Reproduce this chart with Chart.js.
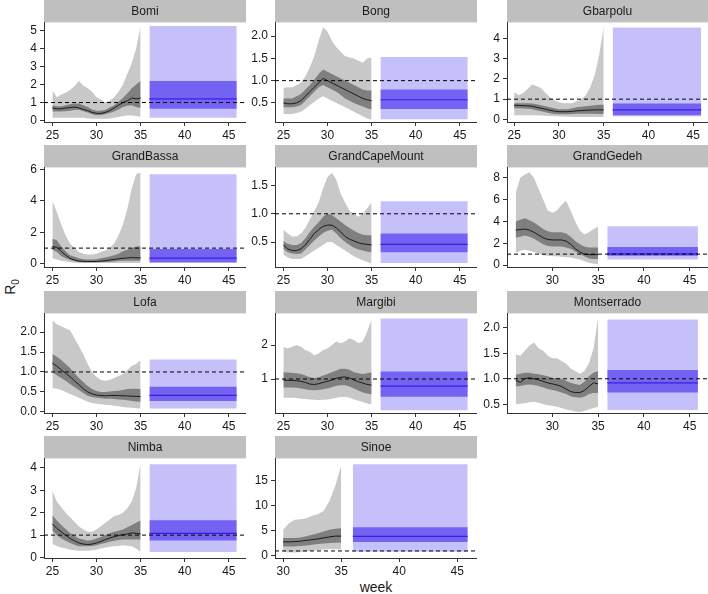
<!DOCTYPE html>
<html>
<head>
<meta charset="utf-8">
<script src="https://cdn.jsdelivr.net/npm/chart.js@4.4.1/dist/chart.umd.min.js"></script>
<style>
body { margin: 0; background: #fff; width: 708px; height: 594px; position: relative; overflow: hidden; font-family: "Liberation Sans", Arial, sans-serif; color: #1a1a1a; }
canvas { position: absolute; }
#ylab { position: absolute; left: -10px; top: 277px; width: 40px; height: 20px; line-height: 20px; text-align: center; font-size: 14px; transform: rotate(-90deg); }
#ylab sub { font-size: 10px; }
#xlab { position: absolute; left: 336px; top: 578px; width: 80px; line-height: 18px; text-align: center; font-size: 14px; }
</style>
</head>
<body>
<div id="ylab">R<sub>0</sub></div>
<div id="xlab">week</div>
<script>
// weeks of the estimated R0 curves
let weeksA = [25, 25.5, 26, 26.5, 27, 27.5, 28, 28.5, 29, 29.5, 30, 30.5, 31, 31.5, 32, 32.5, 33, 33.5, 34, 34.5, 35]
let weeksB = [26, 26.5, 27, 27.5, 28, 28.5, 29, 29.5, 30, 30.5, 31, 31.5, 32, 32.5, 33, 33.5, 34, 34.5, 35]
let weeksC = [30, 30.5, 31, 31.5, 32, 32.5, 33, 33.5, 34, 34.5, 35]
let projWeeks = [36, 45.9]

// projection blocks: [lo95, lo50, median, hi50, hi95]
let bomiHi95 = [1.68, 1.3, 1.45, 1.55, 1.7, 1.9, 2.2, 1.95, 1.8, 1.6, 1.3, 1.15, 1.0, 1.1, 1.3, 1.6, 2.0, 2.6, 3.2, 4.0, 5.25]
let bomiHi50 = [0.85, 0.8, 0.8, 0.85, 0.9, 0.95, 0.95, 0.85, 0.75, 0.62, 0.55, 0.55, 0.6, 0.72, 0.85, 1.05, 1.25, 1.5, 1.8, 2.0, 2.2]
let bomiMed = [0.7, 0.65, 0.65, 0.7, 0.72, 0.75, 0.7, 0.62, 0.55, 0.45, 0.4, 0.4, 0.45, 0.55, 0.7, 0.85, 1.0, 1.1, 1.25, 1.2, 1.25]
let bomiLo50 = [0.5, 0.5, 0.5, 0.52, 0.55, 0.58, 0.6, 0.52, 0.45, 0.35, 0.3, 0.3, 0.35, 0.42, 0.5, 0.62, 0.75, 0.82, 0.85, 0.75, 0.7]
let bomiLo95 = [0.15, 0.15, 0.15, 0.15, 0.15, 0.15, 0.15, 0.15, 0.12, 0.1, 0.1, 0.1, 0.1, 0.12, 0.15, 0.2, 0.25, 0.28, 0.28, 0.25, 0.2]
let bomiProj = [0.15, 0.65, 1.2, 2.2, 5.25]
let bomiYTicks = [0, 1, 2, 3, 4, 5]

let bongHi95 = [0.84, 0.85, 0.85, 0.9, 0.95, 1.1, 1.3, 1.55, 1.9, 2.2, 2.1, 1.9, 1.75, 1.65, 1.55, 1.52, 1.5, 1.45, 1.4, 1.5, 1.52]
let bongHi50 = [0.6, 0.6, 0.6, 0.65, 0.7, 0.8, 0.9, 1.02, 1.15, 1.25, 1.2, 1.15, 1.1, 1.05, 1.0, 0.95, 0.9, 0.85, 0.8, 0.78, 0.78]
let bongMed = [0.5, 0.48, 0.48, 0.5, 0.55, 0.65, 0.75, 0.85, 0.95, 1.05, 1.0, 0.95, 0.9, 0.85, 0.8, 0.75, 0.7, 0.65, 0.6, 0.57, 0.55]
let bongLo50 = [0.4, 0.4, 0.4, 0.42, 0.45, 0.55, 0.65, 0.75, 0.85, 0.9, 0.85, 0.8, 0.75, 0.68, 0.6, 0.55, 0.5, 0.46, 0.42, 0.38, 0.35]
let bongLo95 = [0.25, 0.25, 0.25, 0.27, 0.3, 0.37, 0.45, 0.52, 0.6, 0.65, 0.6, 0.55, 0.5, 0.45, 0.4, 0.35, 0.3, 0.25, 0.2, 0.15, 0.12]
let bongProj = [0.13, 0.36, 0.57, 0.8, 1.53]
let bongYTicks = [0.5, 1.0, 1.5, 2.0]

let gbarpoluHi95 = [1.35, 1.2, 1.3, 1.5, 1.73, 1.65, 1.55, 1.3, 1.1, 0.95, 0.85, 0.8, 0.8, 0.8, 0.9, 1.0, 1.2, 1.6, 2.2, 3.2, 4.6]
let gbarpoluHi50 = [0.8, 0.8, 0.8, 0.8, 0.78, 0.75, 0.7, 0.65, 0.6, 0.55, 0.5, 0.5, 0.5, 0.55, 0.6, 0.62, 0.65, 0.68, 0.7, 0.72, 0.72]
let gbarpoluMed = [0.7, 0.69, 0.68, 0.67, 0.65, 0.6, 0.55, 0.5, 0.45, 0.41, 0.38, 0.38, 0.38, 0.4, 0.42, 0.44, 0.45, 0.46, 0.47, 0.47, 0.47]
let gbarpoluLo50 = [0.55, 0.55, 0.54, 0.52, 0.5, 0.45, 0.4, 0.35, 0.3, 0.27, 0.25, 0.25, 0.25, 0.27, 0.28, 0.28, 0.28, 0.28, 0.28, 0.27, 0.27]
let gbarpoluLo95 = [0.2, 0.2, 0.2, 0.2, 0.2, 0.2, 0.19, 0.18, 0.17, 0.16, 0.15, 0.14, 0.13, 0.12, 0.12, 0.12, 0.12, 0.12, 0.12, 0.12, 0.12]
let gbarpoluProj = [0.15, 0.2, 0.47, 0.78, 4.55]
let gbarpoluYTicks = [0, 1, 2, 3, 4]

let grandBassaHi95 = [4.0, 3.3, 2.5, 1.8, 1.3, 1.0, 0.75, 0.65, 0.6, 0.6, 0.65, 0.75, 0.85, 1.0, 1.3, 1.8, 2.5, 3.5, 4.8, 5.7, 5.8]
let grandBassaHi50 = [1.6, 1.5, 1.1, 0.8, 0.55, 0.45, 0.35, 0.3, 0.28, 0.28, 0.3, 0.35, 0.4, 0.47, 0.55, 0.65, 0.8, 0.9, 1.0, 1.1, 1.1]
let grandBassaMed = [1.1, 1.05, 0.8, 0.55, 0.35, 0.25, 0.18, 0.16, 0.15, 0.15, 0.15, 0.17, 0.2, 0.24, 0.28, 0.32, 0.35, 0.38, 0.4, 0.38, 0.38]
let grandBassaLo50 = [0.9, 0.75, 0.5, 0.35, 0.25, 0.17, 0.12, 0.1, 0.1, 0.1, 0.1, 0.11, 0.12, 0.13, 0.15, 0.18, 0.2, 0.2, 0.2, 0.2, 0.2]
let grandBassaLo95 = [0.35, 0.28, 0.2, 0.15, 0.1, 0.07, 0.05, 0.05, 0.05, 0.05, 0.05, 0.05, 0.05, 0.05, 0.05, 0.05, 0.05, 0.05, 0.05, 0.05, 0.05]
let grandBassaProj = [0.05, 0.1, 0.37, 0.95, 5.7]
let grandBassaYTicks = [0, 2, 4, 6]

let grandCapeMountHi95 = [0.72, 0.65, 0.6, 0.6, 0.65, 0.75, 0.9, 1.05, 1.2, 1.45, 1.65, 1.72, 1.6, 1.35, 1.2, 1.05, 1.0, 0.95, 1.0, 1.1, 1.2]
let grandCapeMountHi50 = [0.52, 0.47, 0.45, 0.45, 0.48, 0.57, 0.68, 0.77, 0.85, 0.95, 1.0, 0.98, 0.92, 0.86, 0.8, 0.75, 0.7, 0.66, 0.63, 0.62, 0.62]
let grandCapeMountMed = [0.45, 0.38, 0.35, 0.35, 0.38, 0.45, 0.55, 0.65, 0.72, 0.78, 0.8, 0.8, 0.75, 0.68, 0.6, 0.55, 0.52, 0.49, 0.47, 0.46, 0.45]
let grandCapeMountLo50 = [0.38, 0.32, 0.3, 0.29, 0.3, 0.37, 0.45, 0.53, 0.6, 0.66, 0.7, 0.72, 0.65, 0.57, 0.5, 0.45, 0.4, 0.37, 0.35, 0.33, 0.32]
let grandCapeMountLo95 = [0.28, 0.23, 0.2, 0.2, 0.2, 0.25, 0.3, 0.35, 0.4, 0.45, 0.5, 0.5, 0.45, 0.4, 0.35, 0.3, 0.25, 0.21, 0.18, 0.15, 0.12]
let grandCapeMountProj = [0.13, 0.32, 0.46, 0.65, 1.22]
let grandCapeMountYTicks = [0.5, 1.0, 1.5]

let grandGedehHi95 = [6.6, 8.0, 8.3, 8.5, 8.0, 7.0, 6.0, 5.0, 4.8, 5.0, 5.5, 5.9, 5.0, 4.0, 3.2, 2.8, 3.0, 3.3, 3.5]
let grandGedehHi50 = [4.0, 4.15, 4.3, 4.1, 3.9, 3.6, 3.3, 3.1, 3.0, 3.0, 3.0, 2.9, 2.6, 2.2, 1.9, 1.7, 1.6, 1.6, 1.6]
let grandGedehMed = [3.2, 3.25, 3.3, 3.2, 3.0, 2.75, 2.5, 2.35, 2.3, 2.3, 2.3, 2.2, 1.9, 1.5, 1.2, 1.0, 0.95, 0.95, 0.95]
let grandGedehLo50 = [2.5, 2.6, 2.7, 2.6, 2.4, 2.15, 1.9, 1.75, 1.7, 1.7, 1.7, 1.6, 1.5, 1.25, 1.0, 0.8, 0.6, 0.55, 0.55]
let grandGedehLo95 = [1.1, 1.3, 1.4, 1.3, 1.2, 1.05, 0.9, 0.85, 0.8, 0.8, 0.75, 0.72, 0.7, 0.6, 0.5, 0.35, 0.2, 0.12, 0.1]
let grandGedehProj = [0.5, 0.86, 1.02, 1.66, 3.55]
let grandGedehYTicks = [0, 2, 4, 6, 8]

let lofaHi95 = [2.3, 2.2, 2.15, 2.1, 2.05, 1.85, 1.65, 1.45, 1.2, 1.0, 0.88, 0.8, 0.78, 0.8, 0.85, 0.9, 0.95, 1.05, 1.15, 1.2, 1.3]
let lofaHi50 = [1.45, 1.38, 1.3, 1.2, 1.1, 0.97, 0.85, 0.75, 0.65, 0.57, 0.52, 0.5, 0.5, 0.51, 0.52, 0.53, 0.55, 0.57, 0.58, 0.58, 0.57]
let lofaMed = [1.22, 1.15, 1.05, 0.97, 0.88, 0.78, 0.68, 0.58, 0.5, 0.45, 0.42, 0.41, 0.4, 0.41, 0.41, 0.41, 0.4, 0.4, 0.39, 0.39, 0.38]
let lofaLo50 = [1.0, 0.92, 0.85, 0.78, 0.7, 0.62, 0.55, 0.47, 0.4, 0.37, 0.35, 0.34, 0.33, 0.33, 0.32, 0.31, 0.3, 0.29, 0.27, 0.26, 0.25]
let lofaLo95 = [0.6, 0.58, 0.55, 0.5, 0.45, 0.4, 0.35, 0.3, 0.25, 0.22, 0.2, 0.19, 0.18, 0.17, 0.15, 0.14, 0.12, 0.11, 0.1, 0.09, 0.08]
let lofaProj = [0.08, 0.27, 0.41, 0.63, 1.31]
let lofaYTicks = [0.0, 0.5, 1.0, 1.5, 2.0]

let margibiHi95 = [1.95, 1.9, 1.95, 2.0, 1.95, 1.85, 1.8, 1.7, 1.75, 1.85, 1.9, 2.0, 2.1, 2.05, 2.1, 2.2, 2.15, 2.05, 2.1, 2.4, 2.75]
let margibiHi50 = [1.2, 1.19, 1.18, 1.17, 1.15, 1.1, 1.05, 1.03, 1.05, 1.1, 1.15, 1.2, 1.25, 1.3, 1.3, 1.27, 1.2, 1.17, 1.15, 1.17, 1.2]
let margibiMed = [0.97, 0.96, 0.96, 0.95, 0.93, 0.9, 0.85, 0.84, 0.86, 0.9, 0.93, 0.97, 1.02, 1.05, 1.06, 1.03, 0.97, 0.92, 0.88, 0.84, 0.82]
let margibiLo50 = [0.75, 0.75, 0.75, 0.74, 0.72, 0.7, 0.68, 0.67, 0.68, 0.7, 0.72, 0.76, 0.8, 0.82, 0.82, 0.78, 0.72, 0.66, 0.6, 0.57, 0.55]
let margibiLo95 = [0.45, 0.45, 0.45, 0.44, 0.42, 0.41, 0.4, 0.39, 0.38, 0.39, 0.4, 0.42, 0.45, 0.47, 0.48, 0.45, 0.4, 0.36, 0.32, 0.28, 0.25]
let margibiProj = [0.08, 0.48, 0.79, 1.22, 2.78]
let margibiYTicks = [1, 2]

let montserradoHi95 = [1.48, 1.45, 1.55, 1.65, 1.71, 1.6, 1.55, 1.45, 1.4, 1.4, 1.35, 1.3, 1.2, 1.15, 1.1, 1.15, 1.3, 1.6, 2.2]
let montserradoHi50 = [1.08, 1.1, 1.12, 1.12, 1.1, 1.09, 1.07, 1.05, 1.02, 1.01, 1.0, 0.96, 0.92, 0.9, 0.88, 0.94, 1.05, 1.12, 1.15]
let montserradoMed = [0.97, 0.93, 1.0, 1.02, 1.0, 0.98, 0.95, 0.92, 0.9, 0.88, 0.85, 0.8, 0.75, 0.73, 0.73, 0.77, 0.85, 0.92, 0.9]
let montserradoLo50 = [0.85, 0.86, 0.88, 0.89, 0.88, 0.86, 0.83, 0.8, 0.78, 0.76, 0.73, 0.7, 0.66, 0.64, 0.63, 0.65, 0.7, 0.72, 0.72]
let montserradoLo95 = [0.5, 0.51, 0.52, 0.54, 0.55, 0.53, 0.5, 0.48, 0.47, 0.45, 0.43, 0.4, 0.38, 0.36, 0.35, 0.37, 0.4, 0.43, 0.45]
let montserradoProj = [0.39, 0.73, 0.92, 1.17, 2.16]
let montserradoYTicks = [0.5, 1.0, 1.5, 2.0]

let nimbaHi95 = [2.98, 2.5, 2.25, 2.0, 1.8, 1.6, 1.4, 1.25, 1.15, 1.15, 1.25, 1.4, 1.55, 1.7, 1.85, 1.9, 2.0, 2.2, 2.5, 3.1, 4.2]
let nimbaHi50 = [1.9, 1.65, 1.45, 1.27, 1.1, 0.97, 0.85, 0.8, 0.75, 0.78, 0.85, 0.92, 1.0, 1.08, 1.15, 1.2, 1.25, 1.35, 1.45, 1.55, 1.65]
let nimbaMed = [1.5, 1.3, 1.15, 1.0, 0.85, 0.75, 0.65, 0.6, 0.58, 0.6, 0.65, 0.72, 0.8, 0.87, 0.93, 0.98, 1.02, 1.05, 1.1, 1.08, 1.05]
let nimbaLo50 = [1.2, 1.0, 0.85, 0.75, 0.65, 0.57, 0.5, 0.5, 0.5, 0.52, 0.55, 0.6, 0.65, 0.7, 0.75, 0.78, 0.8, 0.8, 0.8, 0.8, 0.8]
let nimbaLo95 = [0.6, 0.52, 0.45, 0.4, 0.35, 0.32, 0.3, 0.3, 0.3, 0.32, 0.35, 0.4, 0.45, 0.48, 0.5, 0.52, 0.55, 0.53, 0.5, 0.4, 0.25]
let nimbaProj = [0.25, 0.76, 1.08, 1.66, 4.16]
let nimbaYTicks = [0, 1, 2, 3, 4]

let sinoeHi95 = [5.2, 6.5, 7.2, 7.3, 7.5, 8.0, 8.3, 9.0, 11.0, 14.0, 18.0]
let sinoeHi50 = [3.6, 3.6, 3.6, 3.7, 3.9, 4.2, 4.5, 4.85, 5.2, 5.4, 5.5]
let sinoeMed = [2.8, 2.8, 2.85, 2.95, 3.1, 3.25, 3.4, 3.6, 3.8, 3.95, 3.95]
let sinoeLo50 = [1.9, 1.9, 1.9, 2.0, 2.1, 2.25, 2.4, 2.5, 2.6, 2.65, 2.7]
let sinoeLo95 = [0.8, 0.75, 0.7, 0.8, 0.9, 1.05, 1.2, 1.3, 1.4, 1.35, 1.3]
let sinoeProj = [0.85, 2.8, 3.9, 5.7, 18.25]
let sinoeYTicks = [0, 5, 10, 15]

let xTicksFull = [25, 30, 35, 40, 45]
let xTicksLate = [30, 35, 40, 45]

// panel placement
let colLeft = [0, 231, 463]
let colWidth = [246, 246, 245]
let rowTop = [0, 145, 291, 436]
let PanelHeight = 145

let GreyLight = '#c8c8c8'
let GreyDark = '#7f7f7f'
let BlueLight = '#c6c0fa'
let BlueDark = '#7462f2'
let BlueLine = '#3b1fe0'
let StripColor = '#bfbfbf'

let Panels = [
    { name: 'Bomi', row: 0, col: 0, weeks: weeksA, lo95: bomiLo95, lo50: bomiLo50, med: bomiMed, hi50: bomiHi50, hi95: bomiHi95, proj: bomiProj, yTicks: bomiYTicks, yDec: 0, yMin: -0.08, yMax: 5.45, xMin: 24.05, xMax: 46.95, xTicks: xTicksFull },
    { name: 'Bong', row: 0, col: 1, weeks: weeksA, lo95: bongLo95, lo50: bongLo50, med: bongMed, hi50: bongHi50, hi95: bongHi95, proj: bongProj, yTicks: bongYTicks, yDec: 1, yMin: 0.07, yMax: 2.31, xMin: 24.05, xMax: 46.95, xTicks: xTicksFull },
    { name: 'Gbarpolu', row: 0, col: 2, weeks: weeksA, lo95: gbarpoluLo95, lo50: gbarpoluLo50, med: gbarpoluMed, hi50: gbarpoluHi50, hi95: gbarpoluHi95, proj: gbarpoluProj, yTicks: gbarpoluYTicks, yDec: 0, yMin: -0.13, yMax: 4.8, xMin: 24.2, xMax: 46.65, xTicks: xTicksFull },
    { name: 'GrandBassa', row: 1, col: 0, weeks: weeksA, lo95: grandBassaLo95, lo50: grandBassaLo50, med: grandBassaMed, hi50: grandBassaHi50, hi95: grandBassaHi95, proj: grandBassaProj, yTicks: grandBassaYTicks, yDec: 0, yMin: -0.2, yMax: 6.13, xMin: 24.05, xMax: 46.95, xTicks: xTicksFull },
    { name: 'GrandCapeMount', row: 1, col: 1, weeks: weeksA, lo95: grandCapeMountLo95, lo50: grandCapeMountLo50, med: grandCapeMountMed, hi50: grandCapeMountHi50, hi95: grandCapeMountHi95, proj: grandCapeMountProj, yTicks: grandCapeMountYTicks, yDec: 1, yMin: 0.06, yMax: 1.82, xMin: 24.05, xMax: 46.95, xTicks: xTicksFull },
    { name: 'GrandGedeh', row: 1, col: 2, weeks: weeksB, lo95: grandGedehLo95, lo50: grandGedehLo50, med: grandGedehMed, hi50: grandGedehHi50, hi95: grandGedehHi95, proj: grandGedehProj, yTicks: grandGedehYTicks, yDec: 0, yMin: -0.18, yMax: 8.95, xMin: 25.05, xMax: 47.0, xTicks: xTicksLate },
    { name: 'Lofa', row: 2, col: 0, weeks: weeksA, lo95: lofaLo95, lo50: lofaLo50, med: lofaMed, hi50: lofaHi50, hi95: lofaHi95, proj: lofaProj, yTicks: lofaYTicks, yDec: 1, yMin: -0.03, yMax: 2.47, xMin: 24.05, xMax: 46.95, xTicks: xTicksFull },
    { name: 'Margibi', row: 2, col: 1, weeks: weeksA, lo95: margibiLo95, lo50: margibiLo50, med: margibiMed, hi50: margibiHi50, hi95: margibiHi95, proj: margibiProj, yTicks: margibiYTicks, yDec: 0, yMin: 0.0, yMax: 2.93, xMin: 24.05, xMax: 46.95, xTicks: xTicksFull },
    { name: 'Montserrado', row: 2, col: 2, weeks: weeksB, lo95: montserradoLo95, lo50: montserradoLo50, med: montserradoMed, hi50: montserradoHi50, hi95: montserradoHi95, proj: montserradoProj, yTicks: montserradoYTicks, yDec: 1, yMin: 0.33, yMax: 2.28, xMin: 25.05, xMax: 47.0, xTicks: xTicksLate },
    { name: 'Nimba', row: 3, col: 0, weeks: weeksA, lo95: nimbaLo95, lo50: nimbaLo50, med: nimbaMed, hi50: nimbaHi50, hi95: nimbaHi95, proj: nimbaProj, yTicks: nimbaYTicks, yDec: 0, yMin: -0.02, yMax: 4.42, xMin: 24.05, xMax: 46.95, xTicks: xTicksFull },
    { name: 'Sinoe', row: 3, col: 1, weeks: weeksC, lo95: sinoeLo95, lo50: sinoeLo50, med: sinoeMed, hi50: sinoeHi50, hi95: sinoeHi95, proj: sinoeProj, yTicks: sinoeYTicks, yDec: 0, yMin: -0.4, yMax: 19.4, xMin: 29.3, xMax: 46.7, xTicks: xTicksLate }
]

Chart.defaults.font.family = '"Liberation Sans", Arial, sans-serif'
Chart.defaults.color = '#1a1a1a'

// grey strip behind each panel title
let StripPlugin = {
    id: 'strip',
    beforeDraw(chart) {
        let ctx = chart.ctx
        let t = chart.titleBlock
        let area = chart.chartArea
        ctx.save()
        ctx.fillStyle = StripColor
        ctx.fillRect(area.left, t.top, area.right - area.left, t.height)
        ctx.restore()
    }
}

function Points(xs, ys) {
    return xs.map((x, i) => ({ x: x, y: ys[i] }))
}

function Flat(v) {
    return projWeeks.map(x => ({ x: x, y: v }))
}

function Edge(data, order) {
    return { data: data, order: order, pointRadius: 0, borderWidth: 0, borderColor: 'rgba(0,0,0,0)', tension: 0, fill: false }
}

function AddBand(ds, lo, hi, color, order) {
    ds.push(Edge(lo, order))
    let band = Edge(hi, order)
    band.fill = ds.length - 1
    band.backgroundColor = color
    ds.push(band)
}

function SetPanel(p) {
    let Canvas = document.createElement('canvas')
    Canvas.width = colWidth[p.col]
    Canvas.height = PanelHeight
    Canvas.style.left = colLeft[p.col] + 'px'
    Canvas.style.top = rowTop[p.row] + 'px'
    document.body.appendChild(Canvas)

    let ds = []
    AddBand(ds, Points(p.weeks, p.lo95), Points(p.weeks, p.hi95), GreyLight, 4)
    AddBand(ds, Points(p.weeks, p.lo50), Points(p.weeks, p.hi50), GreyDark, 3)
    AddBand(ds, Flat(p.proj[0]), Flat(p.proj[4]), BlueLight, 4)
    AddBand(ds, Flat(p.proj[1]), Flat(p.proj[3]), BlueDark, 3)
    ds.push({ data: Points(p.weeks, p.med), order: 2, pointRadius: 0, borderWidth: 1, borderColor: '#1a1a1a', tension: 0, fill: false })
    ds.push({ data: Flat(p.proj[2]), order: 2, pointRadius: 0, borderWidth: 1.2, borderColor: BlueLine, tension: 0, fill: false })
    // reference line R0 = 1
    ds.push({ data: [{ x: p.xMin, y: 1 }, { x: p.xMax, y: 1 }], order: 0, pointRadius: 0, borderWidth: 1, borderColor: '#000', borderDash: [4, 3], tension: 0, fill: false })

    new Chart(Canvas, {
        type: 'line',
        data: { datasets: ds },
        plugins: [StripPlugin],
        options: {
            responsive: false,
            animation: false,
            devicePixelRatio: 1,
            layout: { padding: 0 },
            plugins: {
                legend: { display: false },
                tooltip: { enabled: false },
                title: {
                    display: true,
                    text: p.name,
                    fullSize: false,
                    color: '#1a1a1a',
                    font: { size: 12, weight: 'normal' },
                    padding: { top: 4, bottom: 4 }
                }
            },
            scales: {
                x: {
                    type: 'linear',
                    min: p.xMin,
                    max: p.xMax,
                    afterBuildTicks: s => { s.ticks = p.xTicks.map(v => ({ value: v })) },
                    afterFit: s => { s.height = 23 },
                    grid: { drawOnChartArea: false, tickLength: 4, color: '#333' },
                    border: { color: '#333', width: 1 },
                    ticks: { font: { size: 12 }, padding: 2, maxRotation: 0, autoSkip: false, color: '#1a1a1a' }
                },
                y: {
                    type: 'linear',
                    min: p.yMin,
                    max: p.yMax,
                    afterBuildTicks: s => { s.ticks = p.yTicks.map(v => ({ value: v })) },
                    afterFit: s => { s.width = 44 },
                    grid: { drawOnChartArea: false, tickLength: 4, color: '#333' },
                    border: { color: '#333', width: 1 },
                    ticks: { font: { size: 12 }, padding: 3, autoSkip: false, color: '#1a1a1a', callback: v => v.toFixed(p.yDec) }
                }
            }
        }
    })
}

for (let p of Panels) {
    SetPanel(p)
}
</script>
</body>
</html>
